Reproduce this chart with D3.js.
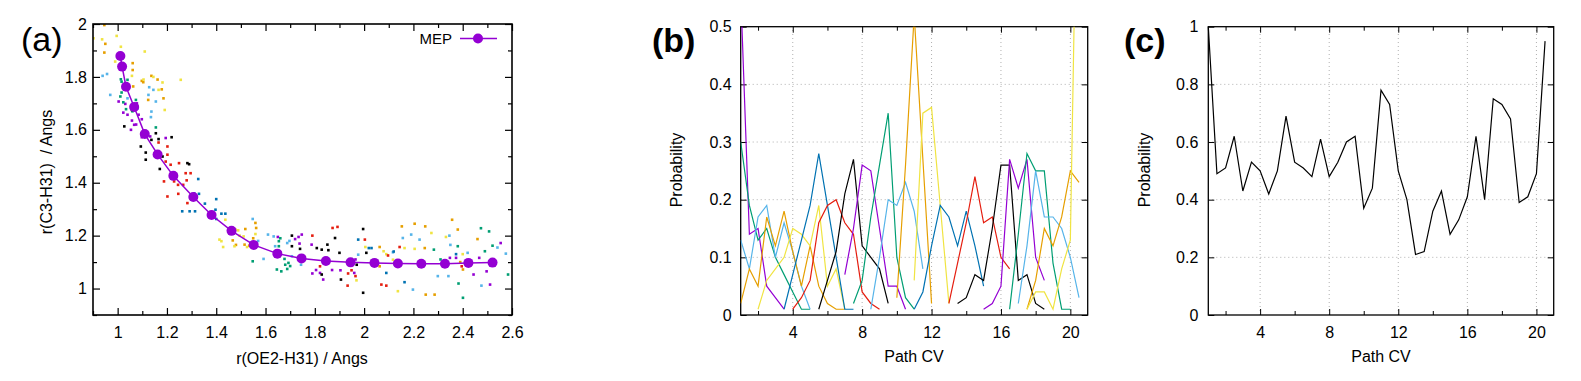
<!DOCTYPE html>
<html><head><meta charset="utf-8">
<script src="https://cdn.jsdelivr.net/npm/d3@7"></script>
<style>
html,body{margin:0;padding:0;background:#fff;}
svg{display:block;font-family:"Liberation Sans",Arial,Helvetica,sans-serif;}
</style></head>
<body>
<svg id="chart" width="1581" height="381"></svg>
<script>
// ---------------- DATA ----------------
// Panel (a): MEP points (x = r(OE2-H31), y = r(C3-H31))
const mepX = [1.011,1.018,1.034,1.067,1.110,1.162,1.226,1.307,1.381,1.462,1.552,1.648,1.746,1.845,1.945,2.042,2.137,2.232,2.328,2.423,2.521];
const mepY = [1.879,1.839,1.763,1.686,1.584,1.507,1.426,1.346,1.278,1.218,1.165,1.132,1.114,1.104,1.099,1.097,1.095,1.094,1.094,1.097,1.098];

// Panel (a): sampled configurations, one array per window colour
const scatPurple = [[1.004,1.707],[1.031,1.698],[1.023,1.665],[1.04,1.657],[1.058,1.635],[1.067,1.619],[1.075,1.62],[1.054,1.6],[1.07,1.686],[1.078,1.70],[1.085,1.657],[1.098,1.64],[1.098,1.572],[1.132,1.575],[1.195,1.569],[1.65,1.195],[1.72,1.187],[1.734,1.195],[1.747,1.204],[1.738,1.17],[1.787,1.166],[1.79,1.057],[1.805,1.07],[1.821,1.059],[1.834,1.034],[1.87,1.07],[1.904,1.069],[1.96,1.059],[1.965,1.11],[2.348,1.116],[2.373,1.116],[2.444,1.053],[2.467,1.116],[2.497,1.065],[2.511,1.015],[2.554,1.172]];
const scatGreen = [[1.013,1.791],[1.016,1.782],[1.04,1.789],[1.016,1.741],[1.011,1.726],[1.023,1.704],[1.034,1.678],[1.074,1.713],[1.06,1.67],[1.155,1.609],[1.548,1.103],[1.654,1.179],[1.654,1.16],[1.66,1.19],[1.646,1.072],[1.664,1.065],[1.68,1.09],[1.693,1.097],[1.677,1.112],[1.688,1.074],[1.70,1.085],[2.283,1.147],[2.31,1.11],[2.38,1.16],[2.383,1.019],[2.401,0.965],[2.474,1.228],[2.49,1.141],[2.507,1.216],[2.521,1.162],[2.584,1.053]];
const scatLightBlue = [[0.939,1.804],[0.957,1.811],[0.97,1.732],[1.027,1.761],[1.04,1.719],[1.08,1.68],[1.128,1.761],[1.125,1.732],[1.145,1.751],[1.155,1.707],[1.137,1.669],[1.135,1.648],[1.548,1.263],[1.57,1.18],[1.592,1.112],[1.61,1.204],[1.633,1.197],[1.639,1.16],[1.688,1.172],[1.697,1.18],[1.707,1.122],[1.744,1.09],[1.976,1.128],[2.117,1.137],[2.157,1.191],[2.191,1.204],[2.198,0.996],[2.225,1.185],[2.299,1.047],[2.342,1.047],[2.346,1.2],[2.35,1.165],[2.42,1.135],[2.476,1.011],[2.541,1.155],[2.575,1.132]];
const scatOrange = [[0.946,1.996],[0.95,1.925],[0.946,1.892],[1.061,1.852],[1.061,1.826],[1.063,1.764],[1.098,1.785],[1.104,1.78],[1.137,1.804],[1.162,1.79],[1.179,1.753],[1.124,1.713],[1.186,1.719],[1.464,1.21],[1.467,1.182],[1.48,1.165],[1.518,1.225],[1.515,1.166],[1.534,1.162],[1.559,1.248],[1.562,1.229],[1.55,1.19],[2.063,1.157],[2.063,1.084],[2.153,1.235],[2.205,1.245],[2.248,1.235],[2.246,1.153],[2.25,0.977],[2.286,0.977],[2.357,1.26],[2.38,1.223],[2.401,1.072],[2.46,1.187],[2.39,1.10]];
const scatYellow = [[0.902,1.946],[0.937,1.942],[0.996,1.955],[0.99,1.858],[1.013,1.914],[1.11,1.896],[1.058,1.804],[1.105,1.79],[1.145,1.80],[1.166,1.751],[1.182,1.779],[1.191,1.675],[1.256,1.789],[1.413,1.185],[1.421,1.179],[1.428,1.157],[1.437,1.26],[1.478,1.223],[1.474,1.16],[1.489,1.22],[1.495,1.20],[1.511,1.197],[1.525,1.157],[1.559,1.206],[1.969,1.031],[2.005,1.157],[2.079,1.141],[2.09,1.13],[2.117,1.109],[2.137,0.99],[2.164,1.153],[2.205,1.15],[2.273,1.21],[2.332,1.195],[2.40,1.13]];
const scatBlue = [[1.327,1.414],[1.262,1.292],[1.292,1.292],[1.314,1.292],[1.33,1.358],[1.354,1.321],[1.4,1.338],[1.397,1.298],[1.377,1.279],[1.421,1.283],[1.437,1.283],[1.4,1.263],[1.31,1.36],[1.976,1.185],[2.019,1.153],[2.03,1.153],[2.09,1.059],[2.164,1.024],[2.12,1.14],[2.373,1.13]];
const scatRed = [[1.166,1.552],[1.202,1.537],[1.202,1.506],[1.195,1.48],[1.215,1.468],[1.229,1.436],[1.188,1.405],[1.202,1.348],[1.249,1.474],[1.276,1.436],[1.296,1.436],[1.245,1.392],[1.266,1.392],[1.28,1.409],[1.229,1.405],[1.246,1.358],[1.283,1.323],[1.296,1.342],[1.79,1.2],[1.872,1.229],[1.892,1.233],[1.821,1.084],[1.933,1.011],[1.935,1.057],[1.949,1.069],[1.965,1.047],[2.003,1.185],[2.07,1.015],[2.09,1.011],[2.097,1.125],[2.144,1.157],[2.396,1.084]];
const scatBlack = [[1.027,1.613],[1.058,1.675],[1.094,1.537],[1.114,1.514],[1.114,1.487],[1.137,1.562],[1.155,1.587],[1.166,1.565],[1.219,1.572],[1.171,1.452],[1.182,1.499],[1.283,1.474],[1.29,1.47],[1.707,1.2],[1.707,1.16],[1.74,1.15],[1.808,1.153],[1.828,1.147],[1.851,1.166],[1.855,1.145],[1.882,1.191],[1.828,1.053],[1.906,1.034],[1.9,1.135],[1.996,1.225],[2.009,1.135],[1.996,0.984],[1.97,1.09]];

// Panel (b): per-window probability along path CV (start CV, values every 0.5)
const windowStart = [1,1,1,1,2,3.5,4,5.5,7,7.5,8.5,10,11,11,13,13.5,15,16.5,17,17.5,17.5];
const windowProb = [
  [0.56,0.14,0.15,0.05,0.03,0.01],
  [0.30,0.19,0.13,0.15,0.10,0.07,0.04,0.01,0.01],
  [0.13,0.08,0.17,0.19,0.10,0.16,0.11,0.05,0.01],
  [0.02,0.08,0.05,0.17,0.12,0.18,0.11,0.05,0.12,0.05,0.02,0.01,0.01],
  [0.01,0.06,0.08,0.10,0.15,0.14,0.12,0.19,0.05,0.08,0.01],
  [0.01,0.07,0.13,0.19,0.28,0.19,0.10,0.01,0.01],
  [0.01,0.03,0.06,0.16,0.19,0.20,0.16,0.14,0.04,0.02,0.01],
  [0.01,0.06,0.11,0.21,0.27,0.12,0.10,0.08,0.02],
  [0.07,0.15,0.26,0.25,0.15,0.05,0.05,0.01],
  [0.02,0.06,0.17,0.26,0.35,0.10,0.03,0.01],
  [0.01,0.10,0.20,0.19,0.23,0.18,0.08],
  [0.03,0.26,0.52,0.27,0.02],
  [0.06,0.35,0.36,0.19,0.02],
  [0.01,0.04,0.12,0.19,0.17,0.12,0.18,0.12,0.05],
  [0.02,0.09,0.16,0.24,0.16,0.17,0.10,0.08],
  [0.02,0.03,0.07,0.06,0.15,0.26,0.26,0.06,0.07,0.02,0.01],
  [0.01,0.02,0.05,0.27,0.22,0.27,0.10,0.06],
  [0.01,0.14,0.28,0.25,0.25,0.09,0.01,0.01],
  [0.02,0.12,0.25,0.17,0.17,0.15,0.10,0.03],
  [0.01,0.06,0.15,0.12,0.17,0.25,0.23],
  [0.01,0.04,0.04,0.01,0.08,0.13,1.0]
];
const cvStep = 0.5;

// Panel (c)
const pathCV = [1,1.5,2,2.5,3,3.5,4,4.5,5,5.5,6,6.5,7,7.5,8,8.5,9,9.5,10,10.5,11,11.5,12,12.5,13,13.5,14,14.5,15,15.5,16,16.5,17,17.5,18,18.5,19,19.5,20,20.5];
const totalProb = [1.0,0.49,0.51,0.62,0.43,0.53,0.50,0.42,0.50,0.69,0.53,0.51,0.48,0.61,0.48,0.53,0.60,0.62,0.37,0.44,0.78,0.73,0.50,0.40,0.21,0.22,0.36,0.43,0.28,0.33,0.41,0.62,0.40,0.75,0.73,0.68,0.39,0.41,0.49,0.95];

// Tick labels
const aXTicks = [1,1.2,1.4,1.6,1.8,2,2.2,2.4,2.6];
const aXMinor = [0.9,1.1,1.3,1.5,1.7,1.9,2.1,2.3,2.5];
const aYTicks = [1,1.2,1.4,1.6,1.8,2];
const aYMinor = [0.9,1.1,1.3,1.5,1.7,1.9];
const cvTicks = [4,8,12,16,20];
const cvMinor = [2,6,10,14,18];
const bYTicks = [0,0.1,0.2,0.3,0.4,0.5];
const cYTicks = [0,0.2,0.4,0.6,0.8,1];

// ---------------- STYLE ----------------
const palette = ["#9400d3","#009e73","#56b4e9","#e69f00","#f0e442","#0072b2","#e51e10","#000000"];
const fmt = d => d3.format("~g")(d);

const svg = d3.select("#chart");

function frameAxes(g, x, y, opt) {
  const [x0,x1] = x.range(), [y0,y1] = y.range();
  // grid
  if (opt.grid) {
    g.append("g").selectAll("line").data(opt.xt.filter(v=>v>x.domain()[0]&&v<x.domain()[1])).join("line")
      .attr("x1",d=>x(d)).attr("x2",d=>x(d)).attr("y1",y0).attr("y2",y1)
      .attr("stroke","#b0b0b0").attr("stroke-width",1).attr("stroke-dasharray","1,3");
    g.append("g").selectAll("line").data(opt.yt.filter(v=>v>y.domain()[0]&&v<y.domain()[1])).join("line")
      .attr("y1",d=>y(d)).attr("y2",d=>y(d)).attr("x1",x0).attr("x2",x1)
      .attr("stroke","#b0b0b0").attr("stroke-width",1).attr("stroke-dasharray","1,3");
  }
  const L = opt.tick, Lm = opt.minor;
  const bottom = g.append("g").attr("transform",`translate(0,${y0})`)
    .call(d3.axisBottom(x).tickValues(opt.xt).tickFormat(fmt).tickSize(-L).tickPadding(opt.xpad));
  const top = g.append("g").attr("transform",`translate(0,${y1})`)
    .call(d3.axisTop(x).tickValues(opt.xt).tickFormat("").tickSize(-L));
  const left = g.append("g").attr("transform",`translate(${x0},0)`)
    .call(d3.axisLeft(y).tickValues(opt.yt).tickFormat(opt.yfmt||fmt).tickSize(-L).tickPadding(opt.ypad));
  const right = g.append("g").attr("transform",`translate(${x1},0)`)
    .call(d3.axisRight(y).tickValues(opt.yt).tickFormat("").tickSize(-L));
  if (opt.xm) {
    g.append("g").attr("transform",`translate(0,${y0})`).call(d3.axisBottom(x).tickValues(opt.xm).tickFormat("").tickSize(-Lm));
    g.append("g").attr("transform",`translate(0,${y1})`).call(d3.axisTop(x).tickValues(opt.xm).tickFormat("").tickSize(-Lm));
  }
  if (opt.ym) {
    g.append("g").attr("transform",`translate(${x0},0)`).call(d3.axisLeft(y).tickValues(opt.ym).tickFormat("").tickSize(-Lm));
    g.append("g").attr("transform",`translate(${x1},0)`).call(d3.axisRight(y).tickValues(opt.ym).tickFormat("").tickSize(-Lm));
  }
  g.selectAll(".domain").remove();
  g.selectAll(".tick line").attr("stroke","#000").attr("stroke-width",opt.sw);
  g.selectAll(".tick text").attr("font-size",opt.fs).attr("fill","#000").attr("font-family",null);
  g.append("rect").attr("x",x0).attr("y",y1).attr("width",x1-x0).attr("height",y0-y1)
    .attr("fill","none").attr("stroke","#000").attr("stroke-width",opt.fw);
}

// ---------------- PANEL (a) ----------------
const xA = d3.scaleLinear([0.9,2.6],[93,512]);
const yA = d3.scaleLinear([0.9,2],[315,24]);
const gA = svg.append("g");
svg.append("clipPath").attr("id","clipA").append("rect")
  .attr("x",93).attr("y",24).attr("width",419).attr("height",291);

const scatterSets = [scatPurple,scatGreen,scatLightBlue,scatOrange,scatYellow,scatBlue,scatRed,scatBlack];
const gS = gA.append("g").attr("clip-path","url(#clipA)");
scatterSets.forEach((set,i) => {
  gS.append("g").selectAll("rect").data(set).join("rect")
    .attr("x",d=>xA(d[0])-1.3).attr("y",d=>yA(d[1])-1.3)
    .attr("width",2.6).attr("height",2.6).attr("fill",palette[i]);
});
const mep = mepX.map((v,i)=>[v,mepY[i]]);
gS.append("path").datum(mep)
  .attr("d",d3.line().x(d=>xA(d[0])).y(d=>yA(d[1])))
  .attr("fill","none").attr("stroke","#9400d3").attr("stroke-width",1.5);
gS.append("g").selectAll("circle").data(mep).join("circle")
  .attr("cx",d=>xA(d[0])).attr("cy",d=>yA(d[1])).attr("r",5).attr("fill","#9400d3");

frameAxes(gA, xA, yA, {xt:aXTicks, yt:aYTicks, xm:aXMinor, ym:aYMinor, tick:7, minor:4, xpad:12, ypad:6, fs:16, sw:1.2, fw:1.6});

// legend
gA.append("text").attr("x",452).attr("y",44).attr("text-anchor","end").attr("font-size",15).text("MEP");
gA.append("line").attr("x1",460).attr("x2",497).attr("y1",38.5).attr("y2",38.5).attr("stroke","#9400d3").attr("stroke-width",1.5);
gA.append("circle").attr("cx",478).attr("cy",38.5).attr("r",5).attr("fill","#9400d3");

gA.append("text").attr("x",302).attr("y",364).attr("text-anchor","middle").attr("font-size",16).text("r(OE2-H31) / Angs");
gA.append("text").attr("transform","translate(52,172) rotate(-90)").attr("text-anchor","middle")
  .attr("font-size",16).style("white-space","pre").text("r(C3-H31)  / Angs");
svg.append("text").attr("x",21).attr("y",51).attr("font-size",34).text("(a)");

// ---------------- PANEL (b) ----------------
const xB = d3.scaleLinear([1,21],[740.7,1087.7]);
const yB = d3.scaleLinear([0,0.5],[315,26.7]);
const gB = svg.append("g");
svg.append("clipPath").attr("id","clipB").append("rect")
  .attr("x",740.7).attr("y",26.7).attr("width",347).attr("height",288.3);
frameAxes(gB, xB, yB, {grid:true, xt:cvTicks, yt:bYTicks, xm:cvMinor, tick:6, minor:4, xpad:12, ypad:9, fs:16, sw:1, fw:1.3});
const gBL = gB.append("g").attr("clip-path","url(#clipB)");
windowProb.forEach((vals,i) => {
  const pts = vals.map((p,j)=>[windowStart[i]+j*cvStep, p]);
  gBL.append("path").datum(pts)
    .attr("d",d3.line().x(d=>xB(d[0])).y(d=>yB(d[1])))
    .attr("fill","none").attr("stroke",palette[i%palette.length]).attr("stroke-width",1.2);
});
gB.append("text").attr("x",914).attr("y",362).attr("text-anchor","middle").attr("font-size",16).text("Path CV");
gB.append("text").attr("transform","translate(682,170) rotate(-90)").attr("text-anchor","middle").attr("font-size",16).text("Probability");
svg.append("text").attr("x",652).attr("y",52).attr("font-size",34).attr("font-weight","bold").text("(b)");

// ---------------- PANEL (c) ----------------
const xC = d3.scaleLinear([1,21],[1208.3,1553.7]);
const yC = d3.scaleLinear([0,1],[315,26.7]);
const gC = svg.append("g");
frameAxes(gC, xC, yC, {grid:true, xt:cvTicks, yt:cYTicks, xm:cvMinor, tick:6, minor:4, xpad:12, ypad:10, fs:16, sw:1, fw:1.3});
gC.append("path").datum(pathCV.map((v,i)=>[v,totalProb[i]]))
  .attr("d",d3.line().x(d=>xC(d[0])).y(d=>yC(d[1])))
  .attr("fill","none").attr("stroke","#000").attr("stroke-width",1.2);
gC.append("text").attr("x",1381).attr("y",362).attr("text-anchor","middle").attr("font-size",16).text("Path CV");
gC.append("text").attr("transform","translate(1150,170) rotate(-90)").attr("text-anchor","middle").attr("font-size",16).text("Probability");
svg.append("text").attr("x",1124).attr("y",52).attr("font-size",34).attr("font-weight","bold").text("(c)");
</script>
</body></html>
